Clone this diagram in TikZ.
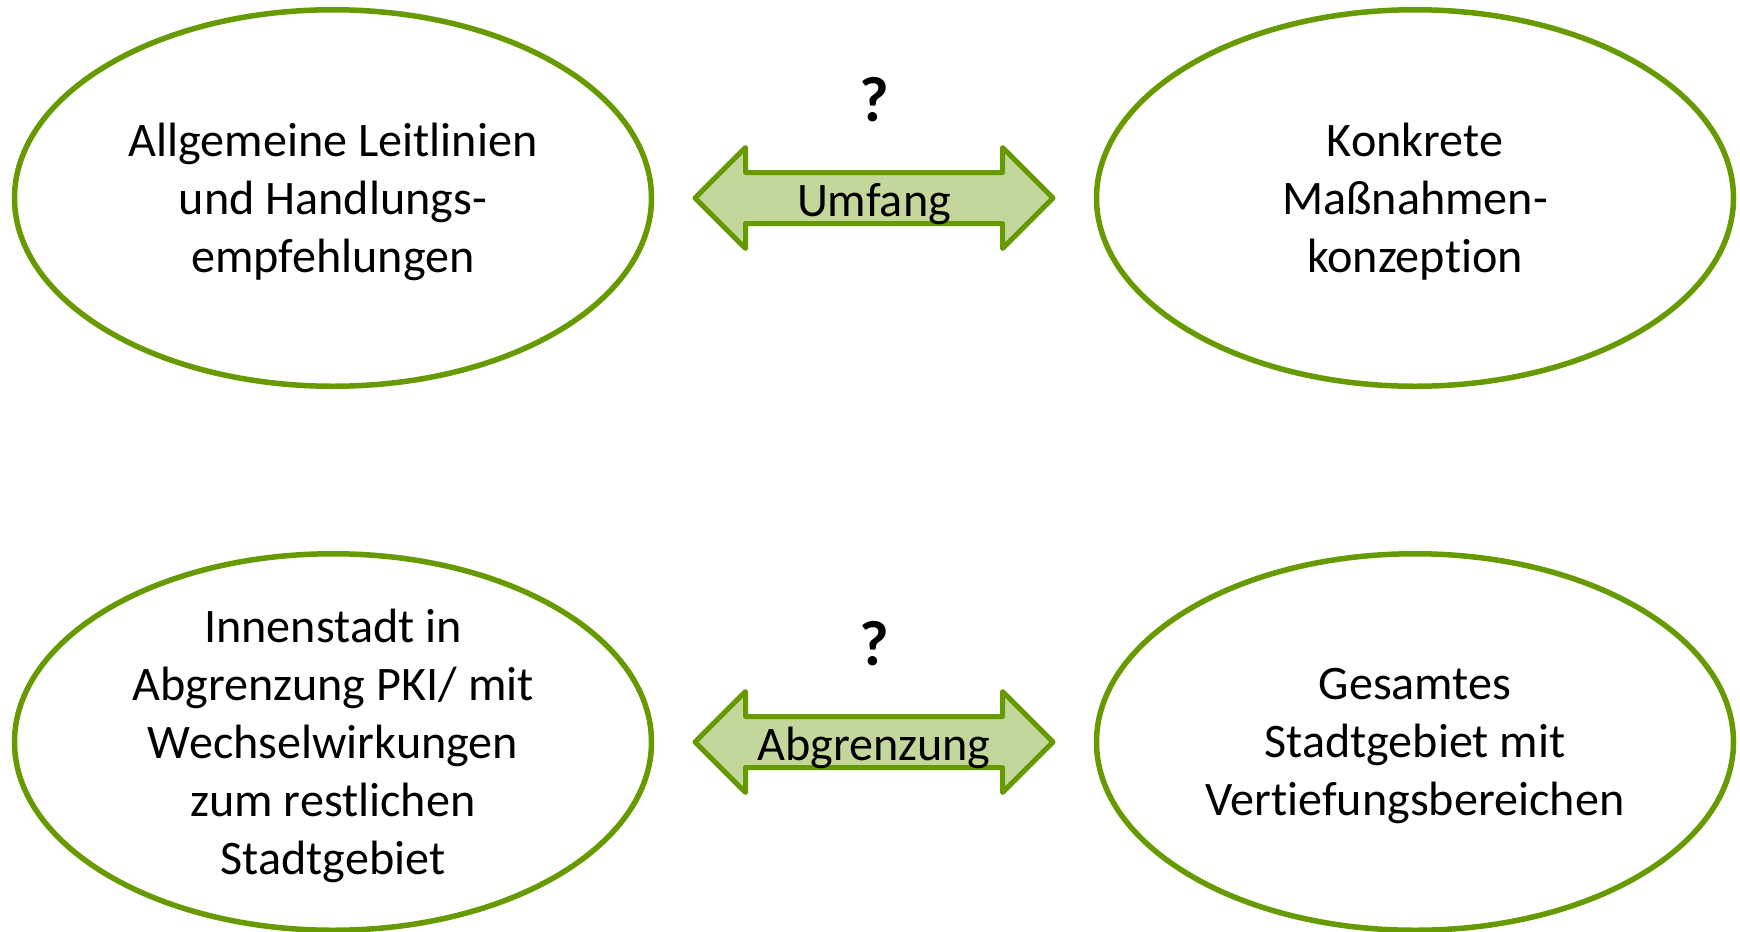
\documentclass[tikz,border=0pt]{standalone}
\usepackage{fontspec}
\setmainfont{Carlito}[Ligatures=NoCommon]
\usetikzlibrary{
  calc,
  shapes.arrows,
  shapes.geometric
}
\definecolor{leafgreen}{HTML}{679A00}
\definecolor{palegreen}{HTML}{C3D69B}
\tikzset{
  % For the two opposite positions of each question.
  topic/.style={
    ellipse,
    draw=leafgreen,
    line width=0.055cm,
    minimum width=6.37cm,
    minimum height=3.765cm,
    inner sep=0pt,
    align=center,
    text depth=0pt,
    font=\fontsize{13.7pt}{16.5pt}\selectfont},
%
  % For the double arrows between the positions.
  relation/.style={
    double arrow,
    draw=leafgreen,
    fill=palegreen,
    line width=0.05cm,
    line join=round,
    minimum height=3.58cm,
    double arrow head extend=0.25cm,
    double arrow tip angle=90,
    inner xsep=0pt,
    inner ysep=0pt,
    text height=0.415cm,
    text depth=0.045cm,
    font=\fontsize{13.7pt}{16.5pt}\selectfont},
%
  % For the question marks above the arrows.
  question/.style={
    inner sep=0pt,
    font=\fontsize{18.2pt}{20pt}\selectfont\bfseries}
}

\begin{document}
\begin{tikzpicture}
  \useasboundingbox (0,0) rectangle (17.4,9.31);

  \node[topic] (leitlinien) at (3.33,7.33)
    {Allgemeine Leitlinien\\und Handlungs-\\empfehlungen};
  \node[topic] (massnahmen) at (14.15,7.33)
    {Konkrete\\Maßnahmen-\\konzeption};

  \node[topic] (innenstadt) at (3.33,1.89)
    {Innenstadt in\\Abgrenzung PKI/ mit\\Wechselwirkungen\\zum restlichen\\Stadtgebiet};
  \node[topic] (gesamt) at (14.15,1.89)
    {Gesamtes\\Stadtgebiet mit\\Vertiefungsbereichen};

  \node[relation] (umfang)
    at ($(leitlinien.east)!0.5!(massnahmen.west)$) {Umfang};
  \node[question] (umfang question) at ($(umfang) + (0,0.98)$) {?};

  \node[relation] (abgrenzung)
    at ($(innenstadt.east)!0.5!(gesamt.west)$) {Abgrenzung};
  \node[question] (abgrenzung question) at ($(abgrenzung) + (0,0.98)$) {?};
\end{tikzpicture}
\end{document}
